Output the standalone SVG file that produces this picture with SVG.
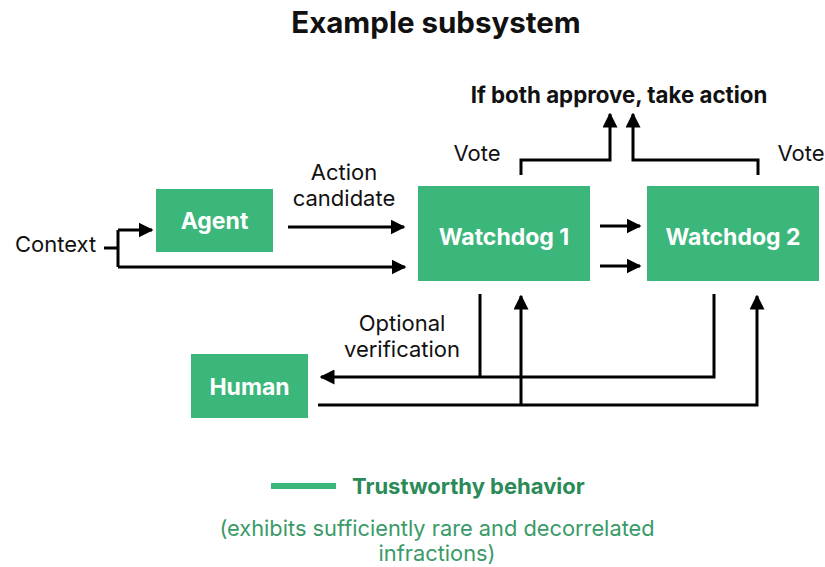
<svg xmlns="http://www.w3.org/2000/svg" width="825" height="567" viewBox="0 0 825 567">
<defs>
<marker id="ah" viewBox="0 0 10 10" refX="9" refY="5" markerWidth="5" markerHeight="5" markerUnits="strokeWidth" orient="auto">
<path d="M0,0 L10,5 L0,10 Z" fill="#000"/>
</marker>
</defs>
<style>
text{font-family:Inter,"Noto Sans","Liberation Sans",sans-serif}
.box{fill:#3bb77b}
.bl{fill:#fff;font-weight:700;font-size:23px;text-anchor:middle}
.lbl{fill:#111;font-size:22px;text-anchor:middle}
.ln{fill:none;stroke:#000;stroke-width:3}
</style>
<rect width="825" height="567" fill="#fff"/>
<text x="436" y="33" font-size="29.5" font-weight="700" text-anchor="middle" fill="#111">Example subsystem</text>
<text x="619" y="103" font-size="22.3" font-weight="700" text-anchor="middle" fill="#111">If both approve, take action</text>

<g id="agent"><rect class="box" x="156" y="189" width="117" height="63"/><text class="bl" x="214.5" y="229">Agent</text></g>
<g id="watchdog1"><rect class="box" x="418" y="186" width="172" height="95"/><text class="bl" x="504" y="245">Watchdog 1</text></g>
<g id="watchdog2"><rect class="box" x="647" y="186" width="172" height="95"/><text class="bl" x="733" y="245">Watchdog 2</text></g>
<g id="human"><rect class="box" x="191" y="354" width="117" height="64"/><text class="bl" x="249.5" y="395">Human</text></g>

<g id="labels">
<text class="lbl" x="55.5" y="252">Context</text>
<text class="lbl" x="344" y="180">Action</text>
<text class="lbl" x="344" y="206">candidate</text>
<text class="lbl" x="477" y="161">Vote</text>
<text class="lbl" x="801" y="161">Vote</text>
<text class="lbl" x="402" y="331">Optional</text>
<text class="lbl" x="402" y="357">verification</text>
</g>

<g id="connectors">
<path class="ln" d="M104,248 H118 M118,230 V267"/>
<path class="ln" d="M118,230 H152" marker-end="url(#ah)"/>
<path class="ln" d="M118,267 H405" marker-end="url(#ah)"/>
<path class="ln" d="M288,227 H404" marker-end="url(#ah)"/>
<path class="ln" d="M600,226 H640" marker-end="url(#ah)"/>
<path class="ln" d="M600,266 H640" marker-end="url(#ah)"/>
<path class="ln" d="M521,175 V160 H610 V114" marker-end="url(#ah)"/>
<path class="ln" d="M758,175 V160 H633 V114" marker-end="url(#ah)"/>
<path class="ln" d="M480,294 V377"/>
<path class="ln" d="M714,294 V377 H321" marker-end="url(#ah)"/>
<path class="ln" d="M318,405 H757 V296" marker-end="url(#ah)"/>
<path class="ln" d="M521,405 V296" marker-end="url(#ah)"/>
</g>

<g id="legend">
<rect x="271" y="483" width="65" height="6" fill="#3bb77b"/>
<text x="352" y="494" font-size="22" font-weight="700" fill="#2a8a58">Trustworthy behavior</text>
<text x="437" y="536" font-size="21.8" text-anchor="middle" fill="#3a9a68">(exhibits sufficiently rare and decorrelated</text>
<text x="437" y="561" font-size="21.8" text-anchor="middle" fill="#3a9a68">infractions)</text>
</g>
</svg>
